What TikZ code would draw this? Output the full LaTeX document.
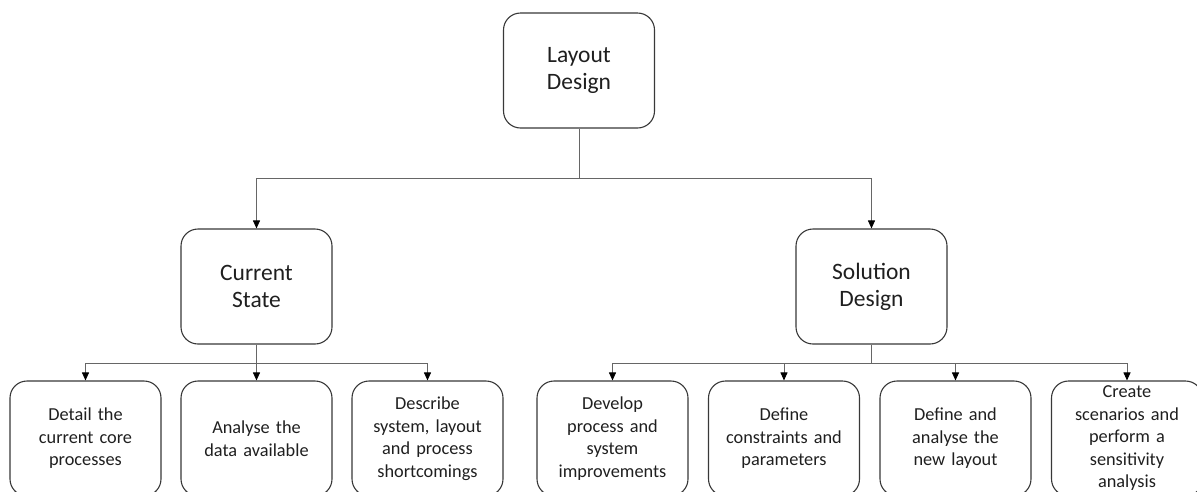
\documentclass[tikz,border=0pt]{standalone}
\usepackage{fontspec}
\setmainfont{Carlito}
\usetikzlibrary{arrows.meta}
\begin{document}
\begin{tikzpicture}[x=1pt,y=-1pt,
  box/.style={draw=black!78, line width=1.1pt, rounded corners=17pt,
    minimum width=151pt, minimum height=115pt, align=center,
    text=black!88, inner sep=2pt},
  bigbox/.style={box, font=\fontsize{23.5}{27}\selectfont},
  smallbox/.style={box, text width=146pt, font=\fontsize{18.3}{22.5}\selectfont},
  link/.style={draw=black!60, line width=0.9pt},
  arr/.style={link, -{Triangle[length=8pt,width=7pt,color=black]}}
]
\clip (0,0) rectangle (1197,491);
\useasboundingbox (0,0) rectangle (1197,491);

% top level
\node[bigbox] (ld) at (579,70.5) {Layout\\Design};

% second level
\node[bigbox] (cs) at (256.5,286.5) {Current\\State};
\node[bigbox] (sd) at (871.5,286.5) {Solution\\Design};

% leaves under Current State
\node[smallbox] (c1) at (85.5,438.5) {Detail the\\current core\\processes};
\node[smallbox] (c2) at (256.5,438.5) {Analyse the\\data available};
\node[smallbox] (c3) at (427.5,438.5) {Describe\\system, layout\\and process\\shortcomings};

% leaves under Solution Design
\node[smallbox] (s1) at (612.5,438.5) {Develop\\process and\\system\\improvements};
\node[smallbox] (s2) at (784,438.5) {Define\\constraints and\\parameters};
\node[smallbox] (s3) at (955.5,438.5) {Define and\\analyse the\\new layout};
\node[smallbox] (s4) at (1127,438.5) {Create\\scenarios and\\perform a\\sensitivity\\analysis};

% bus points
\coordinate (b0) at (579,178.5);
\coordinate (b1) at (256.5,363);
\coordinate (b2) at (871.5,363);

\draw[link] (ld.south) -- (b0);
\draw[arr] (b0) -| (cs.north);
\draw[arr] (b0) -| (sd.north);

\draw[link] (cs.south) -- (b1);
\draw[arr] (b1) -| (c1.north);
\draw[arr] (b1) -- (c2.north);
\draw[arr] (b1) -| (c3.north);

\draw[link] (sd.south) -- (b2);
\draw[arr] (b2) -| (s1.north);
\draw[arr] (b2) -| (s2.north);
\draw[arr] (b2) -| (s3.north);
\draw[arr] (b2) -| (s4.north);
\end{tikzpicture}
\end{document}
